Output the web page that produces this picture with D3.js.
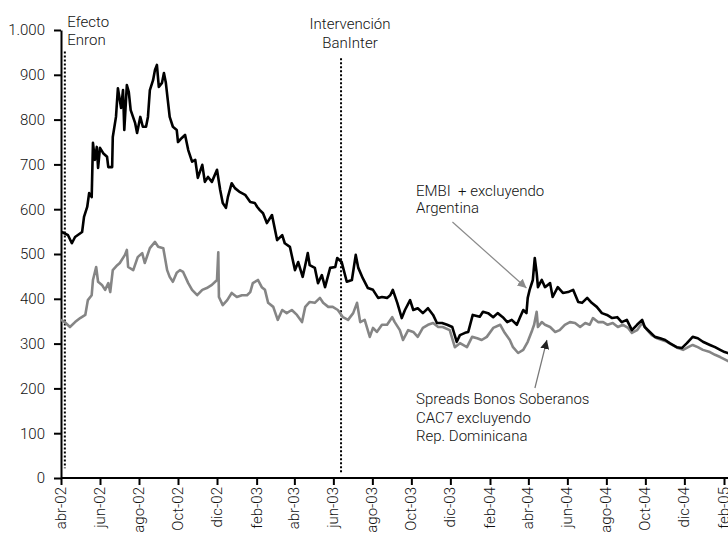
<!DOCTYPE html>
<html>
<head>
<meta charset="utf-8">
<script src="https://cdn.jsdelivr.net/npm/d3@7"></script>
<style>
  html, body { margin: 0; padding: 0; background: #fff; }
  svg { display: block; }
  text { font-family: Roboto, "Liberation Sans", Arial, sans-serif; font-weight: 300; fill: #111; }
</style>
</head>
<body>
<svg id="chart" width="728" height="535"></svg>
<script>
// EMBI+ excluyendo Argentina (puntos básicos)
const embiDates = [
  "2002-04-01","2002-04-04","2002-04-12","2002-04-18","2002-04-23","2002-05-04","2002-05-07","2002-05-12",
  "2002-05-15","2002-05-19","2002-05-21","2002-05-24","2002-05-27","2002-05-29","2002-06-01","2002-06-06",
  "2002-06-12","2002-06-14","2002-06-20","2002-06-21","2002-06-26","2002-06-29","2002-07-04","2002-07-07",
  "2002-07-09","2002-07-13","2002-07-16","2002-07-19","2002-07-26","2002-07-29","2002-08-03","2002-08-07",
  "2002-08-12","2002-08-15","2002-08-18","2002-08-23","2002-08-26","2002-08-29","2002-09-01","2002-09-06",
  "2002-09-09","2002-09-12","2002-09-15","2002-09-18","2002-09-23","2002-09-29","2002-10-01","2002-10-07",
  "2002-10-12","2002-10-17","2002-10-23","2002-10-28","2002-11-01","2002-11-08","2002-11-12","2002-11-17",
  "2002-11-23","2002-12-01","2002-12-06","2002-12-10","2002-12-15","2002-12-18","2002-12-24","2002-12-29",
  "2003-01-06","2003-01-14","2003-01-22","2003-01-29","2003-02-02","2003-02-06","2003-02-11","2003-02-17",
  "2003-02-25","2003-03-05","2003-03-13","2003-03-17","2003-03-25","2003-04-02","2003-04-07","2003-04-14",
  "2003-04-18","2003-04-22","2003-04-25","2003-05-03","2003-05-08","2003-05-14","2003-05-19","2003-05-27",
  "2003-06-04","2003-06-07","2003-06-14","2003-06-22","2003-06-30","2003-07-06","2003-07-10","2003-07-17",
  "2003-07-25","2003-08-02","2003-08-10","2003-08-16","2003-08-24","2003-08-29","2003-09-02","2003-09-09",
  "2003-09-16","2003-09-21","2003-09-29","2003-10-04","2003-10-11","2003-10-19","2003-10-27","2003-11-04",
  "2003-11-10","2003-11-18","2003-11-26","2003-12-04","2003-12-11","2003-12-16","2003-12-24","2003-12-29",
  "2004-01-05","2004-01-16","2004-01-21","2004-01-29","2004-02-06","2004-02-13","2004-02-21","2004-02-28",
  "2004-03-06","2004-03-14","2004-03-19","2004-03-24","2004-03-29","2004-03-31","2004-04-03","2004-04-08",
  "2004-04-11","2004-04-14","2004-04-16","2004-04-22","2004-04-27","2004-05-05","2004-05-09","2004-05-17",
  "2004-05-25","2004-06-02","2004-06-10","2004-06-18","2004-06-24","2004-07-02","2004-07-09","2004-07-17",
  "2004-07-25","2004-08-02","2004-08-10","2004-08-18","2004-08-25","2004-09-02","2004-09-10","2004-09-18",
  "2004-09-26","2004-09-30","2004-10-08","2004-10-16","2004-10-24","2004-11-01","2004-11-08","2004-11-19",
  "2004-11-27","2004-12-05","2004-12-14","2004-12-22","2004-12-30","2005-01-10","2005-01-18","2005-01-26",
  "2005-02-02","2005-02-07","2005-02-15"
];
const embiValues = [
  549,548,542,524,538,549,583,605,
  636,627,748,710,739,692,737,725,
  717,694,694,761,806,870,826,866,
  777,877,862,821,792,770,806,784,
  784,806,866,888,911,922,873,882,
  904,882,844,806,784,777,750,759,
  766,732,706,710,670,699,661,672,
  661,688,643,614,603,627,658,647,
  638,632,616,614,605,598,591,569,
  587,531,542,524,516,464,482,449,
  475,502,475,469,435,453,426,469,
  471,491,482,438,442,498,469,446,
  424,420,402,404,402,408,420,391,
  357,375,397,375,379,368,379,364,
  346,346,342,337,304,319,324,326,
  364,360,371,368,359,368,359,348,
  353,342,359,375,368,402,420,442,
  491,458,426,442,426,435,404,426,
  413,415,420,393,391,402,391,382,
  368,364,357,359,348,353,330,342,
  353,337,326,315,312,308,301,292,
  290,301,315,312,304,297,292,286,
  281,279,275
];

// Spreads bonos soberanos CAC7 excluyendo Rep. Dominicana
const cacDates = [
  "2002-04-01","2002-04-07","2002-04-15","2002-04-23","2002-05-01","2002-05-09","2002-05-13","2002-05-19",
  "2002-05-21","2002-05-26","2002-05-29","2002-06-04","2002-06-09","2002-06-14","2002-06-17","2002-06-21",
  "2002-06-28","2002-07-02","2002-07-10","2002-07-13","2002-07-15","2002-07-23","2002-07-30","2002-08-06",
  "2002-08-10","2002-08-18","2002-08-26","2002-08-31","2002-09-08","2002-09-14","2002-09-18","2002-09-23",
  "2002-09-29","2002-10-04","2002-10-09","2002-10-17","2002-10-23","2002-10-31","2002-11-08","2002-11-15",
  "2002-11-23","2002-12-01","2002-12-03","2002-12-04","2002-12-10","2002-12-17","2002-12-24","2003-01-01",
  "2003-01-09","2003-01-17","2003-01-22","2003-01-26","2003-02-03","2003-02-09","2003-02-14","2003-02-19",
  "2003-02-27","2003-03-06","2003-03-13","2003-03-20","2003-03-28","2003-04-05","2003-04-13","2003-04-18",
  "2003-04-25","2003-05-03","2003-05-11","2003-05-16","2003-05-24","2003-05-31","2003-06-08","2003-06-16",
  "2003-06-24","2003-07-02","2003-07-08","2003-07-13","2003-07-20","2003-07-28","2003-08-02","2003-08-08",
  "2003-08-16","2003-08-24","2003-09-01","2003-09-05","2003-09-13","2003-09-18","2003-09-26","2003-10-04",
  "2003-10-11","2003-10-19","2003-10-27","2003-11-04","2003-11-12","2003-11-19","2003-11-30","2003-12-08",
  "2003-12-16","2003-12-27","2004-01-04","2004-01-12","2004-01-19","2004-01-27","2004-02-06","2004-02-17",
  "2004-02-24","2004-03-03","2004-03-08","2004-03-16","2004-03-24","2004-03-31","2004-04-07","2004-04-10",
  "2004-04-14","2004-04-16","2004-04-22","2004-04-27","2004-05-05","2004-05-13","2004-05-20","2004-05-28",
  "2004-06-05","2004-06-13","2004-06-21","2004-06-29","2004-07-06","2004-07-11","2004-07-19","2004-07-27",
  "2004-08-03","2004-08-11","2004-08-19","2004-08-27","2004-09-04","2004-09-10","2004-09-18","2004-09-26",
  "2004-10-04","2004-10-11","2004-10-19","2004-10-27","2004-11-04","2004-11-12","2004-11-21","2004-11-29",
  "2004-12-07","2004-12-14","2004-12-22","2004-12-30","2005-01-10","2005-01-18","2005-01-26","2005-02-06",
  "2005-02-15"
];
const cacValues = [
  353,348,337,348,357,364,397,408,
  442,471,438,431,420,435,415,464,
  475,480,498,509,471,464,493,502,
  480,513,527,516,513,464,449,438,
  458,464,460,435,420,408,420,424,
  431,442,504,404,386,397,413,404,
  408,408,415,435,442,426,420,391,
  382,353,375,368,375,364,348,382,
  393,391,402,391,382,382,375,359,
  353,368,391,348,353,315,335,326,
  342,342,359,348,330,308,330,326,
  315,335,342,346,337,337,330,292,
  301,292,315,312,308,315,335,342,
  324,308,292,279,286,304,330,342,
  371,337,348,342,337,326,330,342,
  348,346,337,346,342,357,348,348,
  342,346,337,342,335,324,330,346,
  330,319,312,308,304,297,290,286,
  292,297,292,286,281,275,270,262,
  256
];

const yTicks = [0, 100, 200, 300, 400, 500, 600, 700, 800, 900, 1000];
const xTickDates = [
  "2002-04-01","2002-06-01","2002-08-01","2002-10-01","2002-12-01","2003-02-01",
  "2003-04-01","2003-06-01","2003-08-01","2003-10-01","2003-12-01","2004-02-01",
  "2004-04-01","2004-06-01","2004-08-01","2004-10-01","2004-12-01","2005-02-01"
];
const xTickLabels = [
  "abr-02","jun-02","ago-02","Oct-02","dic-02","feb-03",
  "abr-03","jun-03","ago-03","Oct-03","dic-03","feb-04",
  "abr-04","jun-04","ago-04","Oct-04","dic-04","feb-05"
];

// Event markers (vertical dotted lines)
const eventDates = ["2002-04-07", "2003-06-13"];
const eventLabels = [["Efecto", "Enron"], ["Intervención", "BanInter"]];

// Series callouts: anchor point on the series, label lines
const calloutAnchors = [["2004-03-29", 424], ["2004-04-30", 308]];
const calloutLabels = [
  ["EMBI  + excluyendo", "Argentina"],
  ["Spreads Bonos Soberanos", "CAC7 excluyendo", "Rep. Dominicana"]
];

const parse = d3.timeParse("%Y-%m-%d");
const W = 728, H = 535;
const svg = d3.select("#chart");

const x = d3.scaleTime()
  .domain([parse(xTickDates[0]), parse(xTickDates[xTickDates.length - 1])])
  .range([61, 724]);
const y = d3.scaleLinear().domain([0, 1000]).range([478, 30]);

const esLocale = d3.formatLocale({ decimal: ",", thousands: ".", grouping: [3], currency: ["", ""] });
const fmt = esLocale.format(",d");

svg.append("defs").append("clipPath").attr("id", "plot-clip")
  .append("rect").attr("x", 61).attr("y", 0).attr("width", W - 61).attr("height", 480);

// Y axis
const yAxis = svg.append("g").attr("transform", `translate(${x.range()[0]},0)`)
  .call(d3.axisLeft(y).tickValues(yTicks).tickFormat(fmt).tickSize(7).tickSizeOuter(0).tickPadding(9));
yAxis.select(".domain").attr("stroke", "#000").attr("stroke-width", 2);
yAxis.selectAll(".tick line").attr("stroke", "#000").attr("stroke-width", 2);
yAxis.selectAll(".tick text").style("font-size", "15px").attr("fill", "#111");

// X axis
const xAxis = svg.append("g").attr("transform", `translate(0,${y(0)})`)
  .call(d3.axisBottom(x).tickValues(xTickDates.map(parse))
    .tickFormat((d, i) => xTickLabels[i]).tickSize(7).tickSizeOuter(0));
xAxis.select(".domain").remove();
xAxis.append("line").attr("x1", x.range()[0]).attr("x2", W)
  .attr("stroke", "#000").attr("stroke-width", 2);
xAxis.selectAll(".tick line").attr("stroke", "#000").attr("stroke-width", 2);
xAxis.selectAll(".tick text")
  .style("font-size", "15px").attr("fill", "#111")
  .attr("transform", "rotate(-90)")
  .attr("x", -9).attr("y", 0).attr("dy", "0.3em")
  .style("text-anchor", "end");

// Event lines and labels
eventDates.forEach((d, i) => {
  const ex = x(parse(d));
  svg.append("line")
    .attr("x1", ex).attr("x2", ex)
    .attr("y1", i === 0 ? y(952) : y(937)).attr("y2", y(i === 0 ? 22 : 10))
    .attr("stroke", "#000").attr("stroke-width", 2).attr("stroke-dasharray", "2,2");
});
const ev0 = svg.append("text").style("font-size", "15px");
eventLabels[0].forEach((t, k) => ev0.append("tspan").attr("x", x(parse(eventDates[0])) + 2.5).attr("y", 27 + k * 18).text(t));
const ev1 = svg.append("text").style("font-size", "15px").style("text-anchor", "middle");
eventLabels[1].forEach((t, k) => ev1.append("tspan").attr("x", x(parse(eventDates[1])) + 9).attr("y", 29 + k * 19).text(t));

// Series lines
const plot = svg.append("g").attr("clip-path", "url(#plot-clip)");
const line = d3.line().x(d => x(d[0])).y(d => y(d[1]));
const cacData = cacDates.map((d, i) => [parse(d), cacValues[i]]);
const embiData = embiDates.map((d, i) => [parse(d), embiValues[i]]);

plot.append("path").datum(cacData).attr("d", line)
  .attr("fill", "none").attr("stroke", "#858585").attr("stroke-width", 2.6).attr("stroke-linejoin", "round");
plot.append("path").datum(embiData).attr("d", line)
  .attr("fill", "none").attr("stroke", "#000").attr("stroke-width", 2.6).attr("stroke-linejoin", "round");

// Callouts
const defs = svg.select("defs");
[["arrow-gray", "#8a8a8a"], ["arrow-dark", "#222"]].forEach(([id, c]) => {
  defs.append("marker").attr("id", id).attr("viewBox", "0 0 10 10")
    .attr("refX", 10).attr("refY", 5).attr("markerWidth", 9).attr("markerHeight", 9)
    .attr("markerUnits", "userSpaceOnUse").attr("orient", "auto")
    .append("path").attr("d", "M0,0 L10,5 L0,10 Z").attr("fill", c);
});

const tip0 = [x(parse(calloutAnchors[0][0])), y(calloutAnchors[0][1])];
svg.append("line").attr("x1", tip0[0] - 74).attr("y1", tip0[1] - 66)
  .attr("x2", tip0[0]).attr("y2", tip0[1])
  .attr("stroke", "#8a8a8a").attr("stroke-width", 1.2).attr("marker-end", "url(#arrow-gray)");
const tip1 = [x(parse(calloutAnchors[1][0])), y(calloutAnchors[1][1])];
svg.append("line").attr("x1", tip1[0] - 12).attr("y1", tip1[1] + 48)
  .attr("x2", tip1[0]).attr("y2", tip1[1])
  .attr("stroke", "#777").attr("stroke-width", 1.2).attr("marker-end", "url(#arrow-dark)");

const c0 = svg.append("text").style("font-size", "15px").style("white-space", "pre");
calloutLabels[0].forEach((t, k) => c0.append("tspan").attr("x", 416).attr("y", 196 + k * 17).text(t));
const c1 = svg.append("text").style("font-size", "15px");
calloutLabels[1].forEach((t, k) => c1.append("tspan").attr("x", 416).attr("y", 404 + k * 18.5).text(t));
</script>
</body>
</html>
